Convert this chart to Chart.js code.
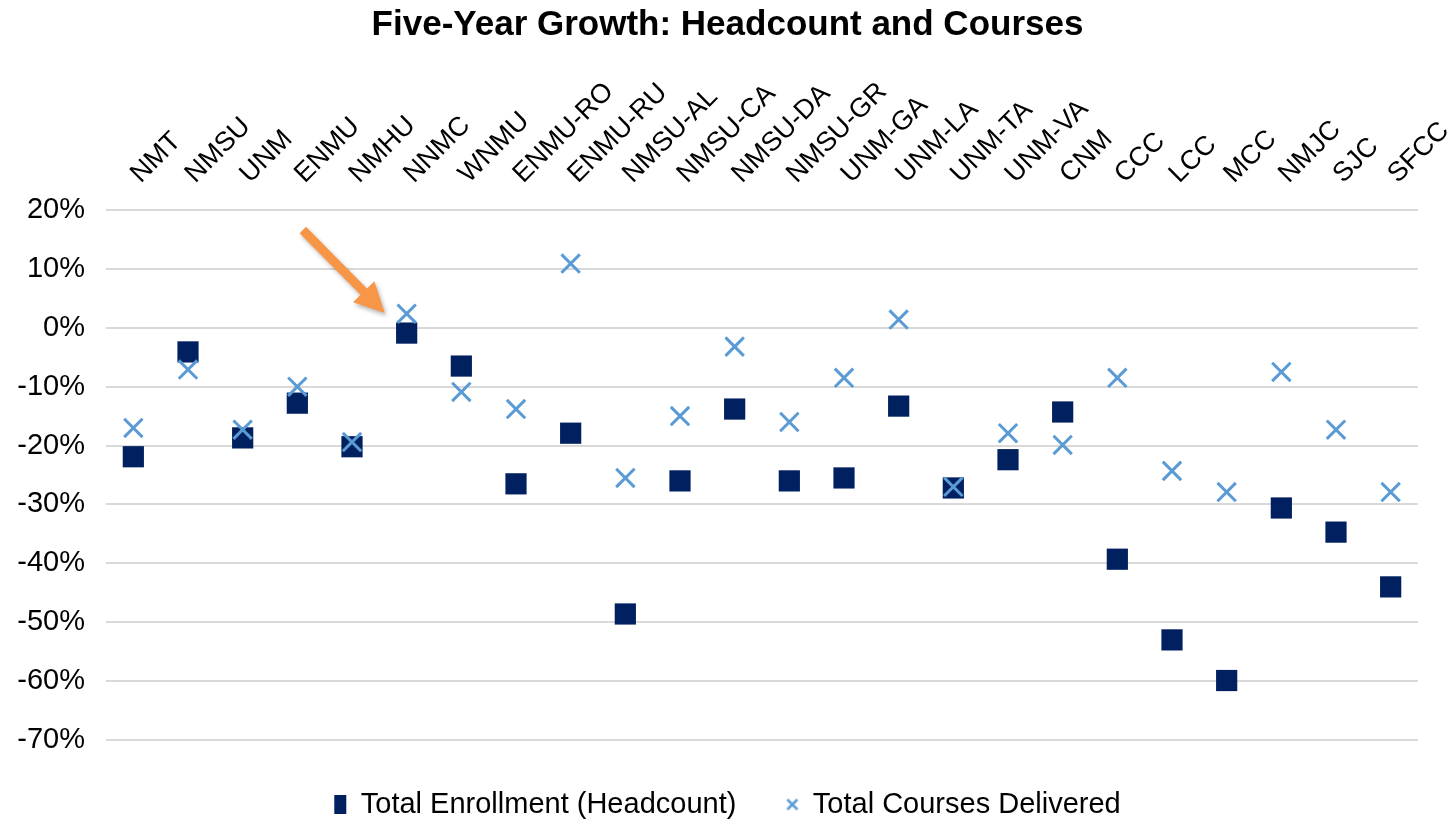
<!DOCTYPE html>
<html>
<head>
<meta charset="utf-8">
<title>Five-Year Growth: Headcount and Courses</title>
<script src="https://cdn.jsdelivr.net/npm/chart.js@4.4.1/dist/chart.umd.min.js"></script>
<style>
  html, body { margin: 0; padding: 0; background: #fff; }
</style>
</head>
<body>
<canvas id="growthChart" width="1455" height="819"></canvas>
<script>
/* ----------------------------------------------------------- */
/* DATA (five-year % change)                                    */
/* ----------------------------------------------------------- */
const campuses = [
  'NMT', 'NMSU', 'UNM', 'ENMU', 'NMHU', 'NNMC', 'WNMU', 'ENMU-RO',
  'ENMU-RU', 'NMSU-AL', 'NMSU-CA', 'NMSU-DA', 'NMSU-GR', 'UNM-GA', 'UNM-LA', 'UNM-TA',
  'UNM-VA', 'CNM', 'CCC', 'LCC', 'MCC', 'NMJC', 'SJC', 'SFCC'
];
const headcountGrowth = [
  -21.9, -4.1, -18.7, -12.8, -20.2, -0.9, -6.5, -26.5,
  -17.9, -48.6, -26.0, -13.8, -26.0, -25.5, -13.3, -27.2,
  -22.4, -14.3, -39.3, -53.0, -59.9, -30.6, -34.7, -44.0
];
const coursesGrowth = [
  -17.0, -7.1, -17.3, -10.0, -19.4, 2.4, -10.9, -13.8,
  10.9, -25.5, -15.0, -3.2, -16.0, -8.5, 1.4, -27.0,
  -17.9, -19.9, -8.5, -24.3, -27.9, -7.5, -17.3, -27.9
];
const yAxisRange = [-70, 20];
const yAxisStep = 10;

// callout arrow pointing at NNMC, in data units: [category index, percent]
const arrowFrom = [3.1, 16.6];
const arrowTo = [4.6, 2.5];

/* ----------------------------------------------------------- */
/* DEFAULTS                                                     */
/* ----------------------------------------------------------- */
Chart.defaults.font.family = "'Liberation Sans', Arial, sans-serif";
Chart.defaults.color = '#000';

// small "x" icon for the legend
const crossIcon = document.createElement('canvas');
crossIcon.width = 14;
crossIcon.height = 14;
(function () {
  const c = crossIcon.getContext('2d');
  c.strokeStyle = '#5b9bd5';
  c.lineWidth = 2.5;
  c.beginPath();
  c.moveTo(2, 2); c.lineTo(12, 12);
  c.moveTo(12, 2); c.lineTo(2, 12);
  c.stroke();
})();

/* ----------------------------------------------------------- */
/* ARROW PLUGIN                                                 */
/* ----------------------------------------------------------- */
const arrowPlugin = {
  id: 'calloutArrow',
  afterDatasetsDraw(chart) {
    const { ctx, scales } = chart;
    const x0 = scales.x.getPixelForValue(arrowFrom[0]);
    const y0 = scales.y.getPixelForValue(arrowFrom[1]);
    const x1 = scales.x.getPixelForValue(arrowTo[0]);
    const y1 = scales.y.getPixelForValue(arrowTo[1]);
    const len = Math.hypot(x1 - x0, y1 - y0);
    const ux = (x1 - x0) / len, uy = (y1 - y0) / len;
    const nx = -uy, ny = ux;
    const headLen = 30, headHalf = 15, shaftHalf = 4.5;
    const bx = x1 - ux * headLen, by = y1 - uy * headLen;

    ctx.save();
    ctx.shadowColor = 'rgba(0,0,0,0.28)';
    ctx.shadowBlur = 4;
    ctx.shadowOffsetX = 2;
    ctx.shadowOffsetY = 3;
    ctx.fillStyle = '#f79646';
    ctx.beginPath();
    ctx.moveTo(x0 + nx * shaftHalf, y0 + ny * shaftHalf);
    ctx.lineTo(bx + nx * shaftHalf, by + ny * shaftHalf);
    ctx.lineTo(bx + nx * headHalf, by + ny * headHalf);
    ctx.lineTo(x1, y1);
    ctx.lineTo(bx - nx * headHalf, by - ny * headHalf);
    ctx.lineTo(bx - nx * shaftHalf, by - ny * shaftHalf);
    ctx.lineTo(x0 - nx * shaftHalf, y0 - ny * shaftHalf);
    ctx.closePath();
    ctx.fill();
    ctx.restore();
  }
};

/* ----------------------------------------------------------- */
/* CHART                                                        */
/* ----------------------------------------------------------- */
new Chart(document.getElementById('growthChart').getContext('2d'), {
  type: 'line',
  data: {
    labels: campuses,
    datasets: [{
      label: 'Total Enrollment (Headcount)',
      data: headcountGrowth,
      showLine: false,
      pointStyle: 'rect',
      pointRadius: 15,
      pointBackgroundColor: '#002060',
      pointBorderColor: '#002060',
      pointBorderWidth: 0,
      backgroundColor: '#002060',
      borderColor: '#002060',
      order: 2
    }, {
      label: 'Total Courses Delivered',
      data: coursesGrowth,
      showLine: false,
      pointStyle: 'crossRot',
      pointRadius: 13,
      pointBorderColor: '#5b9bd5',
      pointBorderWidth: 3,
      backgroundColor: '#5b9bd5',
      borderColor: '#5b9bd5',
      order: 1
    }]
  },
  options: {
    responsive: false,
    animation: false,
    events: [],
    layout: { padding: { left: 0, right: 0, top: 0, bottom: -10 } },
    scales: {
      x: {
        position: 'top',
        offset: true,
        grid: { display: false, drawTicks: false },
        border: { display: false },
        ticks: {
          autoSkip: false,
          minRotation: 45,
          maxRotation: 45,
          padding: 20,
          labelOffset: 25,
          font: { size: 27 }
        },
        afterFit: s => { s.height = 164; s.paddingLeft = 0; s.paddingRight = 0; }
      },
      y: {
        min: yAxisRange[0],
        max: yAxisRange[1],
        grid: { color: '#d9d9d9', lineWidth: 2, drawTicks: false },
        border: { display: false },
        ticks: {
          stepSize: yAxisStep,
          padding: 21,
          font: { size: 29 },
          callback: v => v + '%'
        },
        afterFit: s => { s.width = 106; s.paddingTop = 0; s.paddingBottom = 0; }
      },
      // empty right-hand spacer so the plot ends where the original does
      spacer: {
        type: 'linear',
        position: 'right',
        grid: { display: false, drawTicks: false },
        border: { display: false },
        ticks: { display: false },
        afterFit: s => { s.width = 37; s.paddingTop = 0; s.paddingBottom = 0; }
      }
    },
    plugins: {
      title: {
        display: true,
        text: 'Five-Year Growth: Headcount and Courses',
        font: { size: 35, weight: 'bold' },
        padding: { top: 4, bottom: 0 }
      },
      legend: {
        position: 'bottom',
        labels: {
          usePointStyle: true,
          pointStyleWidth: 12,
          boxHeight: 19,
          padding: 50,
          font: { size: 29 },
          sort: (a, b) => a.datasetIndex - b.datasetIndex,
          generateLabels: chart => {
            const items = Chart.defaults.plugins.legend.labels.generateLabels(chart);
            items.forEach(it => { if (it.datasetIndex === 1) it.pointStyle = crossIcon; });
            return items;
          }
        }
      },
      tooltip: { enabled: false }
    }
  },
  plugins: [arrowPlugin]
});
</script>
</body>
</html>
